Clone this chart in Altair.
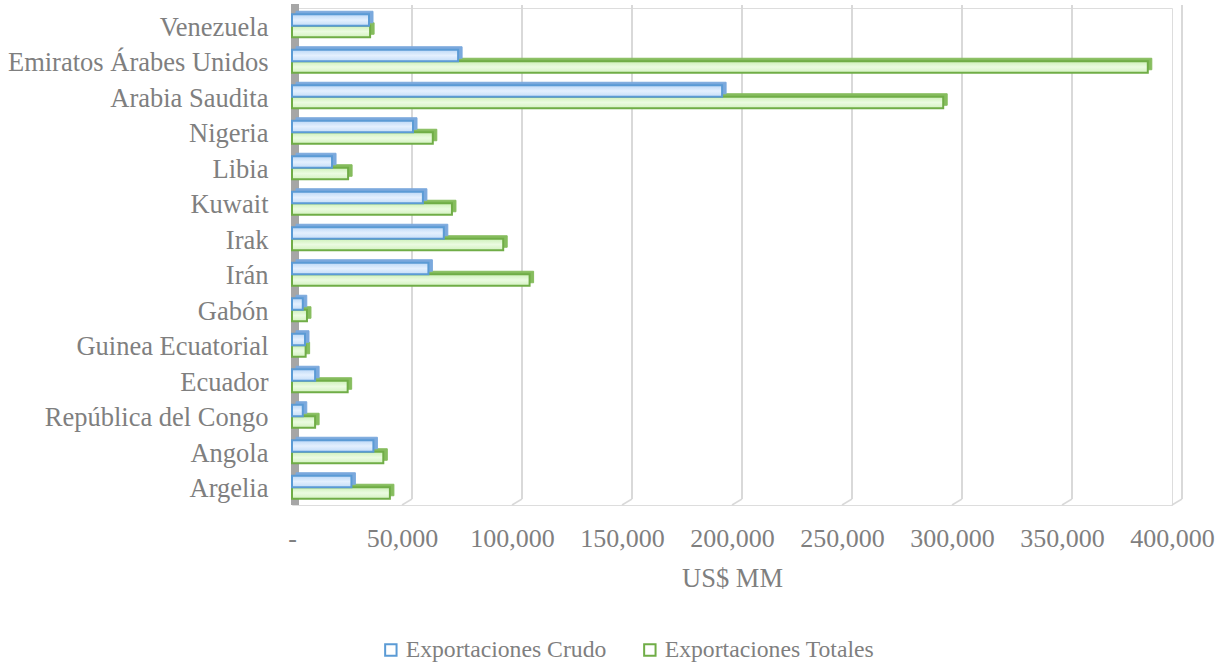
import altair as alt
import pandas as pd

# Exportaciones de los países miembros (US$ MM)
paises = [
    "Venezuela", "Emiratos Árabes Unidos", "Arabia Saudita", "Nigeria", "Libia",
    "Kuwait", "Irak", "Irán", "Gabón", "Guinea Ecuatorial", "Ecuador",
    "República del Congo", "Angola", "Argelia",
]
crudo = [35000, 75500, 195500, 55000, 18200, 59500, 69000, 62000, 4900, 5900, 10500, 4900, 37000, 27000]
totales = [35500, 389000, 296000, 64000, 25500, 72700, 96000, 108000, 6800, 6200, 25300, 10500, 41500, 44500]

series = ["Exportaciones Crudo", "Exportaciones Totales"]
ticks = [0, 50000, 100000, 150000, 200000, 250000, 300000, 350000, 400000]

W, H = 880, 497
FONT = "Liberation Serif, Times New Roman, serif"
GRAY = "#7f7f7f"
BAR = 11.5

df = pd.DataFrame({"pais": paises, "crudo": crudo, "totales": totales})
grid_df = pd.DataFrame({"v": ticks[1:]})
leg_df = pd.DataFrame({"serie": series})

x_scale = alt.Scale(domain=[0, 400000], nice=False, zero=True)
y_scale = alt.Scale(domain=paises, paddingInner=0, paddingOuter=0)

x_axis = alt.Axis(
    values=ticks, title="US$ MM", grid=False, domain=False, ticks=False,
    labelExpr="datum.value == 0 ? '-' : format(datum.value, ',')",
    labelOverlap=False, labelLimit=0, labelFlush=False,
    labelFont=FONT, labelFontSize=26, labelColor=GRAY, labelPadding=20,
    titleFont=FONT, titleFontSize=26.5, titleColor=GRAY, titleFontWeight="normal",
    titlePadding=14,
)
y_axis = alt.Axis(
    title=None, grid=False, domain=False, ticks=False, labelLimit=0, labelOffset=2,
    labelFont=FONT, labelFontSize=26.5, labelColor=GRAY, labelPadding=24,
)

base = alt.Chart(df)

# back-wall gridlines (shifted for the 3D look) and their floor diagonals
grid = alt.Chart(grid_df).mark_rule(color="#d9d9d9", strokeWidth=2, xOffset=10).encode(
    x=alt.X("v:Q", scale=x_scale, axis=x_axis),
    y=alt.value(-3), y2=alt.value(H - 6),
)
floor = alt.Chart(grid_df).mark_rule(color="#d9d9d9", strokeWidth=1.5, x2Offset=10).encode(
    x=alt.X("v:Q", scale=x_scale), x2="v:Q",
    y=alt.value(H), y2=alt.value(H - 6),
)
wall = alt.Chart(grid_df).mark_rule(color="#a6a6a6", strokeWidth=7, xOffset=3).encode(
    x=alt.datum(0, scale=x_scale), y=alt.value(-4), y2=alt.value(H),
)


def bars(col, fill_stops, stroke, depth, off):
    grad = alt.Gradient(
        gradient="linear", x1=0, x2=0, y1=0, y2=1,
        stops=[alt.GradientStop(offset=o, color=c) for o, c in fill_stops],
    )
    side = base.mark_bar(
        size=BAR, fill=depth, stroke=depth, strokeWidth=1,
        yOffset=off - 3, xOffset=4, x2Offset=4,
    ).encode(
        x=alt.X(f"{col}:Q", scale=x_scale),
        y=alt.Y("pais:N", scale=y_scale, sort=paises, axis=y_axis),
    )
    front = base.mark_bar(
        size=BAR, fill=grad, stroke=stroke, strokeWidth=2, yOffset=off,
    ).encode(
        x=alt.X(f"{col}:Q", scale=x_scale),
        y=alt.Y("pais:N", scale=y_scale, sort=paises, axis=y_axis),
    )
    return side + front


tot = bars("totales", [(0, "#cdf0b8"), (0.5, "#ebfbe1"), (1, "#d3f2c0")], "#70ad47", "#86bd5e", BAR / 2)
cru = bars("crudo", [(0, "#bcd8f6"), (0.5, "#e4f0fe"), (1, "#c4ddf8")], "#5b9bd5", "#7ba9dd", -BAR / 2)

legend = alt.Chart(leg_df).mark_square(opacity=0, size=0).encode(
    fill=alt.Fill(
        "serie:N",
        scale=alt.Scale(domain=series, range=["#d0e5fb", "#d9f4c9"]),
        legend=alt.Legend(
            title=None, orient="none", legendX=87, legendY=630, direction="horizontal",
            symbolType="square", symbolSize=130, symbolStrokeWidth=2, symbolOpacity=1,
            labelFont=FONT, labelFontSize=23.7, labelColor=GRAY, labelOffset=3,
            labelLimit=0, columnPadding=31,
        ),
    ),
    stroke=alt.Stroke(
        "serie:N",
        scale=alt.Scale(domain=series, range=["#5b9bd5", "#70ad47"]),
        legend=alt.Legend(title=None),
    ),
)

chart = alt.layer(grid, floor, wall, tot, cru, legend).properties(
    width=W, height=H,
    autosize=alt.AutoSizeParams(type="none"),
    padding={"left": 292, "top": 8, "right": 43, "bottom": 663 - 8 - H},
).configure_view(stroke=None).configure(background="white")

chart.save("out.html", embed_options={"renderer": "svg", "actions": False})
